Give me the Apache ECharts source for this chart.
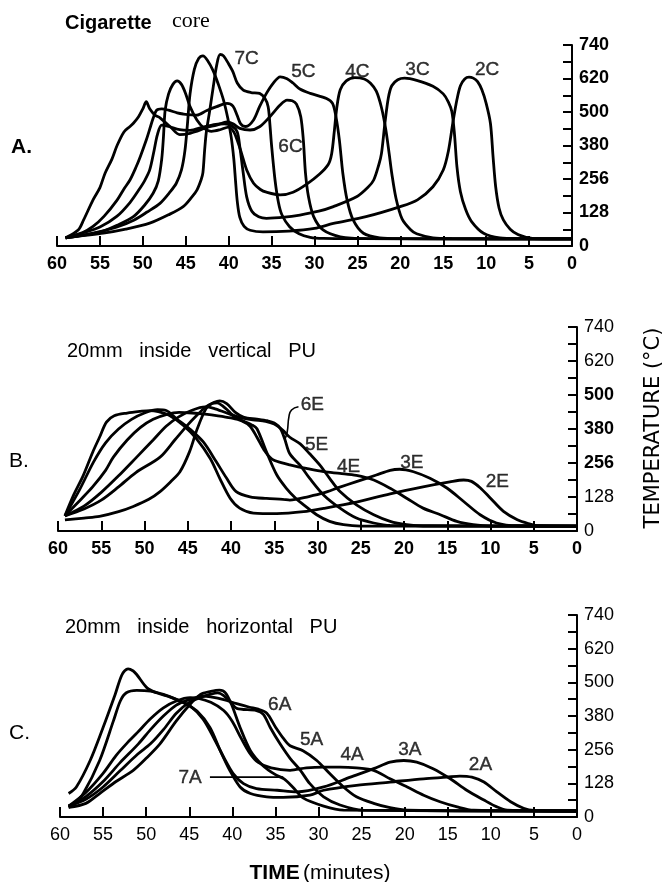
<!DOCTYPE html>
<html>
<head>
<meta charset="utf-8">
<script src="https://cdn.jsdelivr.net/npm/echarts@6/dist/echarts.min.js"></script>
<style>
html,body{margin:0;padding:0;background:#fff;}
#chart{width:663px;height:882px;}
</style>
</head>
<body>
<div id="chart"></div>
<script>
// ---------- tick labels ----------
const yTickLabels = ['0','128','256','380','500','620','740'];
const xMin = 0, xMax = 60, xStep = 5;

// ---------- Panel A: cigarette core  [time(min), temperature] ----------
const A_2C = [[59,30],[57,40],[55,53],[53,70],[51,96],[49.5,125],[48,157],[46.8,200],[46.1,231],[45.5,280],[45.1,350],[44.8,450],[44.5,560],[44,650],[43.5,690],[43,700],[42.5,685],[41.8,645],[41.2,595],[40.6,537],[40.1,470],[39.7,400],[39.4,320],[39.2,240],[39,165],[38.7,105],[38.2,72],[37.5,58],[36,52],[33,55],[30,65],[27.8,83],[24,108],[20,145],[18,170],[16.2,218],[15,280],[14.4,350],[13.9,450],[13.4,540],[13,590],[12.5,615],[12,622],[11.5,618],[11,605],[10.5,575],[10,525],[9.5,451],[9.2,330],[8.9,220],[8.5,140],[8,96],[7.2,62],[6.3,42],[5.3,32],[4.5,27],[0,26]];
const A_3C = [[59,30],[57,48],[55,70],[53,110],[51.5,160],[50.5,205],[49.8,240],[49.2,280],[48.7,350],[48.3,410],[47.8,445],[47,440],[45.7,428],[44.5,426],[43,438],[41.5,448],[40.5,450],[39.6,442],[39,420],[38.7,365],[38.3,268],[37.9,181],[37.3,128],[36.5,108],[35.6,102],[33.5,106],[31.7,114],[29.5,128],[27.8,145],[25.1,181],[23.8,215],[23.1,243],[22.5,300],[22.2,340],[21.8,451],[21.4,545],[21,590],[20.3,612],[19.5,618],[18.1,610],[16.2,588],[15,560],[14.4,530],[14,495],[13.7,415],[13.4,290],[13,200],[12.4,135],[11.7,90],[10.3,47],[8.4,30],[6,27],[0,26]];
const A_4C = [[59,30],[56,45],[54.6,55],[53,76],[51.1,108],[49.8,150],[48.8,194],[48.2,240],[47.8,320],[47.6,400],[47.4,500],[47,560],[46.5,595],[46,608],[45.5,595],[45,560],[44.5,513],[43.7,464],[42.9,435],[42,422],[41,428],[40,438],[39.4,420],[38.9,380],[38.5,341],[37.9,280],[37.1,231],[36.3,208],[35.6,198],[34,188],[32.5,198],[30.9,228],[29.4,265],[28.4,300],[28,340],[27.7,420],[27.4,510],[27,575],[26.3,608],[25.3,620],[24.2,615],[23.5,600],[22.8,570],[22.2,510],[21.7,430],[21.3,340],[21,268],[20.5,175],[19.8,100],[18.8,60],[18.1,45],[16.2,30],[14,27],[0,26]];
const A_5C = [[59,30],[57,50],[55.8,72],[54.5,110],[53,169],[52.2,210],[51.5,243],[50.8,290],[50.3,329],[49.6,390],[49.2,430],[48.8,470],[48.4,500],[47.8,505],[47,500],[46,490],[45.3,486],[43.7,482],[42.6,498],[41.4,513],[40.2,525],[39.5,515],[39,480],[38.6,450],[38,440],[37.1,464],[36.4,513],[35.6,562],[34.8,600],[34,623],[33.2,616],[32.5,600],[31.7,578],[30.5,562],[28.6,543],[27.9,525],[27.5,476],[27.1,390],[26.7,268],[26.2,169],[25.5,96],[24.3,47],[22.4,30],[20,27],[0,26]];
const A_6C = [[59,30],[57.5,60],[56.9,96],[55.8,170],[55,215],[54.4,268],[53.6,320],[53,370],[52.2,420],[51.5,440],[51.1,452],[50.5,476],[50,505],[49.6,531],[49.2,505],[48.6,482],[48,472],[46.8,439],[45.7,410],[44.5,415],[43.3,427],[42.6,437],[41.4,445],[40.2,457],[39.5,450],[38.7,433],[37.5,427],[36.4,439],[35.2,476],[34,519],[33.2,537],[32.6,535],[32.1,522],[31.6,476],[31.3,390],[31.05,268],[30.7,181],[30.1,108],[29,59],[27,34],[24,27],[0,26]];
const A_7C = [[59,30],[57,38],[54.6,47],[52,62],[49.2,84],[47,115],[45.3,145],[44.3,180],[43.7,206],[43.2,245],[43,270],[42.8,353],[42.6,420],[42.2,500],[41.8,585],[41.4,665],[41,705],[40.6,700],[40,670],[39.5,641],[39,600],[38.3,574],[37.4,565],[36.4,562],[35.8,545],[35.4,513],[35.2,450],[35,370],[34.6,243],[34.2,160],[33.8,115],[32.9,71],[31.8,45],[30.5,32],[29,28],[25,27],[0,26]];
const labelsA = [['7C',37.9,690],['5C',31.3,641],['4C',25.0,641],['3C',18.0,648],['2C',9.9,648],['6C',32.8,365]];

// ---------- Panel B: 20mm inside vertical PU ----------
const B_2E = [[59.2,55],[58.2,130],[57.1,200],[56,285],[55.2,340],[54.4,395],[53.5,418],[52,428],[50.5,434],[49.4,437],[48.4,433],[47.1,419],[45.5,383],[44,335],[42.4,263],[41.3,191],[40.1,119],[39,83],[37.4,65],[34.7,63],[31.6,70],[29.3,82],[25.5,105],[21.6,135],[17.8,160],[14.7,178],[13.1,185],[12.2,180],[11.2,157],[10,119],[8.5,71],[6.9,41],[5.4,25],[4.6,19],[0,18]];
const B_3E = [[59.2,55],[57.5,150],[55.9,250],[54.5,320],[53,370],[51.5,405],[50,428],[48.5,440],[47.5,437],[46.3,407],[44.8,371],[43.2,323],[41.7,251],[40.5,191],[39.4,143],[37.8,124],[35.9,118],[34,115],[33.2,112],[31,125],[29.3,138],[27.5,158],[25.5,179],[23.2,203],[21.6,220],[20.5,224],[18.9,215],[17,191],[15,155],[13.1,107],[11.2,59],[9.3,29],[6.9,19],[0,18]];
const B_4E = [[59.2,55],[57.5,110],[56,160],[54.5,220],[53.6,268],[52,330],[50.5,375],[49,405],[47.5,422],[46,430],[44.5,428],[43,424],[41.5,418],[40,410],[38.8,400],[37.8,380],[37,340],[36.2,295],[35.3,262],[34.2,248],[33.2,240],[31.3,227],[29.3,215],[27.4,209],[25.5,202],[23.5,185],[21.6,155],[19.7,119],[17.8,83],[15.8,59],[13.9,35],[12,23],[10,18],[0,18]];
const B_5E = [[59.2,55],[57,90],[55,140],[53,200],[50.9,268],[49,330],[47.5,380],[46,415],[44.5,438],[43,450],[42,445],[40.5,428],[39,412],[37.5,403],[36,398],[35,388],[34,365],[33.2,340],[32,316],[30.9,280],[29.7,238],[28.6,191],[27.4,143],[25.5,95],[23.5,59],[21.6,35],[19.7,23],[17.8,18],[0,18]];
const B_6E = [[59.2,55],[57,80],[55,112],[53,160],[51,212],[48.2,268],[46.5,330],[45,385],[44,418],[43,448],[42,466],[41.3,472],[40.5,462],[39.5,430],[38.5,412],[37,406],[35.8,400],[35,392],[34.3,372],[33.8,335],[33.2,280],[32,238],[30.9,191],[29.3,131],[27.4,83],[25.5,47],[23.5,29],[21.6,20],[0,18]];
const B_7E = [[59.2,40],[57,47],[55.2,53],[53,70],[51.3,89],[49.5,115],[48.2,143],[47,178],[45.9,215],[44.8,287],[43.9,371],[42.9,443],[42.2,462],[41.6,465],[41,455],[40.3,435],[39.5,412],[38.5,398],[37.6,385],[37,371],[35.9,287],[34.7,203],[33.6,155],[32.5,118],[31.6,95],[30.1,59],[28.6,35],[27,23],[25,18],[0,18]];
const labelsB = [['6E',30.6,457],['5E',30.1,312],['4E',26.4,233],['3E',19.1,246],['2E',9.2,179]];
const leaderB = [[32.2,451],[33.0,439],[33.3,415],[33.5,360],[33.8,330]];

// ---------- Panel C: 20mm inside horizontal PU ----------
const C_2A = [[59,86],[58.1,110],[56.5,207],[55,328],[53.6,449],[52.8,522],[52.1,543],[51.5,535],[51.1,522],[49.9,473],[48.8,455],[47.2,439],[45.7,419],[44.1,388],[42.6,328],[41.4,243],[40.3,171],[39.1,110],[37.9,86],[36,74],[34.1,72],[31,80],[29.4,98],[25.6,116],[21.7,128],[17.8,140],[15.1,146],[13.6,150],[12.2,146],[10.8,128],[9.3,92],[7.7,56],[6.2,32],[5,24],[0,22]];
const C_3A = [[59,35],[58.3,50],[57.3,86],[55.4,207],[53.8,352],[53,425],[52.3,455],[51.1,464],[49.5,461],[48,449],[46.5,431],[44.9,407],[43.4,358],[42.2,292],[41,219],[39.9,159],[38.7,122],[37.2,104],[34.8,98],[32.5,92],[29.4,110],[26.3,146],[23.6,177],[21.7,201],[20.1,207],[18.6,201],[16.7,177],[14.7,140],[12.8,98],[10.8,62],[9.3,37],[8.1,25],[0,22]];
const C_4A = [[59,40],[57,90],[55,160],[53.5,225],[52.3,268],[51,310],[49.5,360],[48,400],[46.5,425],[44.9,437],[44,435],[42.5,420],[41,390],[40,350],[39,290],[38,235],[37,200],[35.5,180],[33.3,171],[31.4,180],[29.4,183],[27.5,183],[25.6,180],[23.6,171],[21.7,140],[19.7,110],[17.8,80],[15.9,56],[13.9,37],[12,25],[0,22]];
const C_5A = [[59,40],[57,75],[55,130],[53,200],[50.9,268],[49.5,320],[48,370],[46.5,410],[45,430],[43.4,443],[42.5,440],[41,430],[39.5,415],[38,402],[37,395],[36,380],[35,330],[34,285],[33.3,261],[31.8,243],[30.2,207],[28.7,159],[27.1,110],[25.6,74],[23.6,50],[21.7,34],[19.7,25],[0,22]];
const C_6A = [[59,40],[57,65],[55,110],[53,170],[51,230],[49.5,268],[48,320],[46.5,380],[45,420],[43.5,440],[42.5,450],[41.7,455],[41,445],[40.2,420],[39.5,398],[37.2,390],[36.4,376],[35.6,328],[34.5,270],[33.3,215],[32.1,171],[31,122],[29.4,74],[27.5,44],[24.8,25],[0,22]];
const C_7A = [[59,35],[57,50],[55.4,86],[53.5,130],[51.5,171],[50,215],[48.4,268],[46.5,352],[44.9,413],[43.7,449],[42.5,460],[41.5,465],[40.8,455],[40.1,413],[39.1,328],[37.9,243],[36.5,190],[35,155],[34,140],[33,110],[31.8,70],[29.4,40],[27.1,25],[0,22]];
const labelsC = [['6A',34.5,410],['5A',30.8,282],['4A',26.1,227],['3A',19.4,245],['2A',11.2,190],['7A',44.9,142]];
const leaderC = [[42.6,146],[34.1,146]];

// ---------- build ----------
const FONT = '"Liberation Sans", Arial, sans-serif';
const INK = '#000';
const grids = [
  {left:57, top:45, width:515, height:201},
  {left:58, top:327, width:519, height:204},
  {left:60, top:615, width:517, height:202}
];
const xBold = [true, true, false];
// which y tick labels are printed in bold, per panel
const yBoldIdx = [[0,1,2,3,4,5,6],[2,3,4],[]];

const xAxes = grids.map((g,i)=>({
  type:'value', gridIndex:i, min:xMin, max:xMax, interval:xStep, inverse:true,
  axisLine:{show:true, onZero:false, lineStyle:{color:INK, width:2}},
  axisTick:{show:true, inside:true, length:10, lineStyle:{color:INK, width:2}},
  axisLabel:{color:INK, fontSize:18, fontWeight:xBold[i]?'bold':'normal', fontFamily:FONT, margin:9},
  splitLine:{show:false}
}));
const yStep = 740/6;
const yAxes = grids.map((g,i)=>({
  type:'value', gridIndex:i, position:'right', min:0, max:740, interval:yStep,
  axisLine:{show:true, onZero:false, lineStyle:{color:INK, width:2}},
  axisTick:{show:true, inside:true, length:9, lineStyle:{color:INK, width:2}},
  minorTick:{show:true, splitNumber:2, length:9, lineStyle:{color:INK, width:2}},
  axisLabel:{color:INK, fontSize:18, fontFamily:FONT, margin:7,
    formatter:(v)=>{const k=Math.round(v/yStep); const s=yTickLabels[k]||''; return yBoldIdx[i].indexOf(k)>=0 ? '{b|'+s+'}' : '{n|'+s+'}';},
    rich:{b:{fontSize:18, fontWeight:'bold', fontFamily:FONT, color:INK}, n:{fontSize:18, fontFamily:FONT, color:INK}}},
  splitLine:{show:false}, minorSplitLine:{show:false}
}));

function curve(data, gi){
  return {type:'line', xAxisIndex:gi, yAxisIndex:gi, data:data, symbol:'none', showSymbol:false,
    smooth:0.3, silent:true, lineStyle:{color:INK, width:2.8}, z:3};
}
function labels(arr, gi){
  return {type:'scatter', xAxisIndex:gi, yAxisIndex:gi, symbolSize:1, silent:true,
    itemStyle:{color:'rgba(0,0,0,0)'},
    data:arr.map(a=>({name:a[0], value:[a[1],a[2]]})),
    label:{show:true, position:'inside', formatter:'{b}', color:INK, fontSize:19, fontFamily:FONT,
      textBorderColor:INK, textBorderWidth:0.4}, z:5};
}
function leader(data, gi){
  return {type:'line', xAxisIndex:gi, yAxisIndex:gi, data:data, symbol:'none', smooth:0.5, silent:true,
    lineStyle:{color:INK, width:1.6}, z:4};
}

const series = [];
[A_2C,A_3C,A_4C,A_5C,A_6C,A_7C].forEach(d=>series.push(curve(d,0)));
[B_2E,B_3E,B_4E,B_5E,B_6E,B_7E].forEach(d=>series.push(curve(d,1)));
[C_2A,C_3A,C_4A,C_5A,C_6A,C_7A].forEach(d=>series.push(curve(d,2)));
series.push(labels(labelsA,0), labels(labelsB,1), labels(labelsC,2));
series.push(leader(leaderB,1), leader(leaderC,2));

const txt = (left, top, text, size, weight, family) => ({type:'text', left:left, top:top,
  style:{text:text, fontSize:size, fontWeight:weight||'normal', fontFamily:family||FONT, fill:INK}});

const graphic = [
  txt(65, 13, 'Cigarette', 20, 'bold'),
  txt(172, 10, 'core', 22, 'normal', '"Liberation Serif", "Times New Roman", serif'),
  txt(11, 137, 'A.', 21, 'bold'),
  txt(9, 451, 'B.', 21),
  txt(9, 723, 'C.', 21),
  txt(67, 341, '20mm   inside   vertical   PU', 20),
  txt(65, 617, '20mm   inside   horizontal   PU', 20),
  {type:'text', x:654, y:428, rotation:Math.PI/2,
    style:{text:'TEMPERATURE (°C)', fontSize:21, fontFamily:'"DejaVu Sans", sans-serif', fill:INK, align:'center', verticalAlign:'middle'}},
  {type:'text', x:320, y:873,
    style:{text:'{b|TIME} {n|(minutes)}', align:'center', verticalAlign:'middle', fill:INK,
      rich:{b:{fontSize:21, fontWeight:'bold', fontFamily:FONT, fill:INK}, n:{fontSize:21, fontFamily:FONT, fill:INK}}}}
];

const chart = echarts.init(document.getElementById('chart'), null, {renderer:'canvas'});
chart.setOption({
  animation:false,
  backgroundColor:'#fff',
  grid:grids,
  xAxis:xAxes,
  yAxis:yAxes,
  series:series,
  graphic:graphic
});
</script>
</body>
</html>
